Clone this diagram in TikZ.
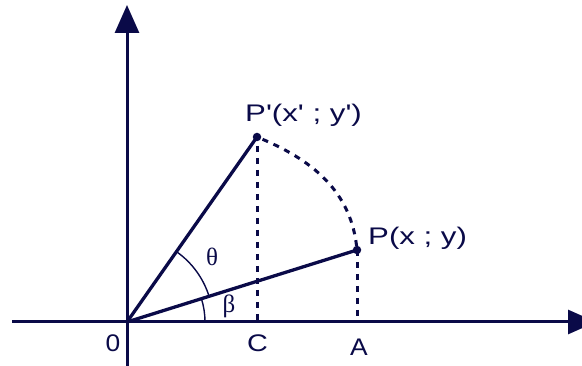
\documentclass[tikz,border=0pt]{standalone}
\usepackage{fontspec}
\setmainfont{Liberation Sans}[Ligatures=TeXOff]
\newfontfamily\grkfont{Liberation Serif}
\usetikzlibrary{arrows.meta}
\definecolor{navy}{RGB}{10,10,72}
\newcommand{\wide}[1]{\scalebox{1.3}[1]{#1}}
\tikzset{
  axis/.style={draw=navy, line width=3pt, -{Triangle[length=28pt,width=24pt]}},
  ray/.style={draw=navy, line width=3.3pt, line cap=round},
  dashline/.style={draw=navy, line width=3pt, dash pattern=on 6pt off 6pt},
  anglearc/.style={draw=navy, line width=1.4pt},
  lbl/.style={text=navy, font=\fontsize{24}{28}\selectfont, inner sep=0pt},
  grk/.style={text=navy, font=\fontsize{25}{28}\selectfont\grkfont, inner sep=0pt},
  dot/.style={circle, fill=navy, inner sep=0pt, minimum size=8.5pt}
}
\begin{document}
\begin{tikzpicture}[x=1pt,y=1pt]
\useasboundingbox (0,0) rectangle (582,366);
\clip (0,0) rectangle (582,366);
\coordinate (O) at (127,44);
\coordinate (xs) at (12,44);
\coordinate (xe) at (596,44);
\coordinate (ys) at (127,0);
\coordinate (ye) at (127,361);
\coordinate (P) at (357,116);
\coordinate (Pp) at (257,229);
\coordinate (C) at (257,44);
\coordinate (A) at (357,44);
% axes
\draw[axis] (xs) -- (xe);
\draw[axis] (ys) -- (ye);
% dashed lines
\draw[dashline, dash phase=3pt] (Pp) -- (C);
\draw[dashline] (P) -- (A);
\draw[dashline, dash phase=-6pt] (Pp) to[out=-22, in=95] (P);
% rays
\draw[ray] (O) -- (P);
\draw[ray] (O) -- (Pp);
% angle arcs
\draw[anglearc] ([shift={(17.4:86)}]O) arc[start angle=17.4, end angle=54.9, radius=86];
\draw[anglearc] ([shift={(0:78)}]O) arc[start angle=0, end angle=17.4, radius=78];
% points
\node[dot] (dP) at (P) {};
\node[dot] (dPp) at (Pp) {};
% labels
\node[lbl, anchor=base west] (lPp) at (245,244) {\wide{P'(x' ; y')}};
\node[lbl, anchor=base west] (lP) at (368,121) {\wide{P(x ; y)}};
\node[lbl, anchor=base] (l0) at (113,14) {\scalebox{1.1}[1]{0}};
\node[lbl, anchor=base] (lC) at (257.5,14) {\scalebox{1.2}[1]{C}};
\node[lbl, anchor=base] (lA) at (359,10) {\scalebox{1.1}[1]{A}};
\node[grk, anchor=base] (th) at (212,100) {θ};
\node[grk, anchor=base] (be) at (229,53) {β};
\end{tikzpicture}
\end{document}
